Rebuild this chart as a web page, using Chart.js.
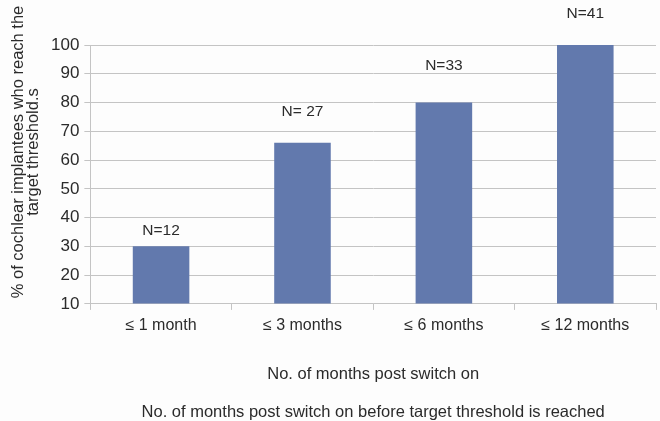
<!DOCTYPE html>
<html>
<head>
<meta charset="utf-8">
<script src="https://cdn.jsdelivr.net/npm/chart.js@4"></script>
<style>
  html, body { margin: 0; padding: 0; background: #fdfdfd; }
  #wrap { width: 660px; height: 421px; position: relative; }
</style>
</head>
<body>
<div id="wrap"><canvas id="chart"></canvas></div>
<script>
// ===== Data =====
const categories = ["≤ 1 month", "≤ 3 months", "≤ 6 months", "≤ 12 months"];
const percentReached = [30, 66, 80, 100];
const nLabels = ["N=12", "N= 27", "N=33", "N=41"];
const yTicks = { min: 10, max: 100, step: 10 };
const yTitle = ["% of cochlear implantees who reach the", "target threshold.s"];
const xTitle = ["No. of months post switch on", "No. of months post switch on before target threshold is reached"];

// label gap above each bar (px)
const labelGap = [16, 31, 37, 31];

const FONT = "'Liberation Sans', Arial, sans-serif";
const TEXT = "#2b2b2b";
const GRID = "#c4c4c4";

// ===== N= labels above bars =====
const nLabelPlugin = {
  id: "nLabels",
  afterDatasetsDraw(chart) {
    const { ctx } = chart;
    const meta = chart.getDatasetMeta(0);
    ctx.save();
    ctx.font = "15.5px " + FONT;
    ctx.fillStyle = TEXT;
    ctx.textAlign = "center";
    ctx.textBaseline = "middle";
    meta.data.forEach((bar, i) => {
      ctx.fillText(nLabels[i], bar.x, bar.y - labelGap[i]);
    });
    ctx.restore();
  }
};

// ===== rotated y title (sits a bit above the axis centre in the original) =====
const yTitlePlugin = {
  id: "yTitle",
  afterDraw(chart) {
    const { ctx } = chart;
    ctx.save();
    ctx.font = "16.5px " + FONT;
    ctx.fillStyle = TEXT;
    ctx.textAlign = "center";
    ctx.textBaseline = "middle";
    ctx.translate(0, 152);
    ctx.rotate(-Math.PI / 2);
    ctx.fillText(yTitle[0], 0, 18);
    ctx.fillText(yTitle[1], 0, 33);
    ctx.restore();
  }
};

const ctx = document.getElementById("chart").getContext("2d");
new Chart(ctx, {
  type: "bar",
  data: {
    labels: categories,
    datasets: [{
      data: percentReached,
      backgroundColor: "#6279ad",
      borderWidth: 0,
      barPercentage: 0.4,
      categoryPercentage: 1.0,
      base: yTicks.min
    }]
  },
  options: {
    responsive: true,
    maintainAspectRatio: false,
    animation: false,
    layout: { padding: { top: 45, right: 4, bottom: 0, left: 46 } },
    plugins: {
      legend: { display: false },
      tooltip: { enabled: false }
    },
    scales: {
      x: {
        offset: true,
        grid: {
          offset: true,
          drawOnChartArea: false,
          color: GRID,
          tickLength: 6
        },
        border: { color: GRID },
        ticks: { color: TEXT, font: { family: FONT, size: 16 }, padding: 6 },
        title: {
          display: true,
          text: xTitle,
          color: TEXT,
          font: { family: FONT, size: 16.5, lineHeight: 2.3 },
          padding: { top: 14, bottom: -10 }
        }
      },
      y: {
        min: yTicks.min,
        max: yTicks.max,
        grid: { color: GRID, tickLength: 6 },
        border: { color: GRID },
        ticks: {
          stepSize: yTicks.step,
          color: TEXT,
          font: { family: FONT, size: 17 },
          padding: 5
        }
      }
    }
  },
  plugins: [nLabelPlugin, yTitlePlugin]
});
</script>
</body>
</html>
